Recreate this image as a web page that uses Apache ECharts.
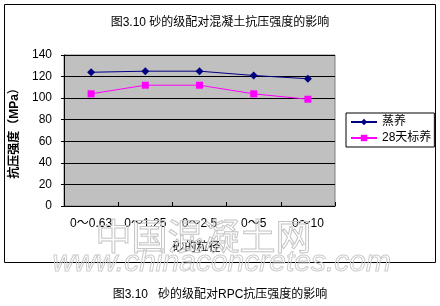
<!DOCTYPE html>
<html><head><meta charset="utf-8">
<script src="https://cdn.jsdelivr.net/npm/echarts@6/dist/echarts.min.js"></script>
<style>html,body{margin:0;padding:0;background:#fff}#c{width:440px;height:306px}</style>
</head><body><div id="c"></div>
<script>
const categories = ['0～0.63', '0～1.25', '0～2.5', '0～5', '0～10'];
const steamCured = [124, 125, 125, 121, 118];
const standard28 = [104, 112, 112, 104, 99];
const yTicks = [0, 20, 40, 60, 80, 100, 120, 140];
const seriesNames = ['蒸养', '28天标养'];
const titleText = '图3.10 砂的级配对混凝土抗压强度的影响';
const captionText = '图3.10   砂的级配对RPC抗压强度的影响';
const xName = '砂的粒径';
const yName = '抗压强度（MPa）';

const FONT = '"Liberation Sans", "Noto Sans CJK SC", sans-serif';
const chart = echarts.init(document.getElementById('c'), null, {renderer: 'canvas'});
chart.setOption({
  animation: false,
  backgroundColor: '#fff',
  textStyle: {fontFamily: FONT},
  title: {text: titleText, left: 'center', top: 12, textStyle: {fontSize: 12, fontWeight: 'normal', color: '#000', fontFamily: FONT}},
  grid: {left: 64, top: 55, width: 271, height: 151, show: true, backgroundColor: '#c0c0c0', borderColor: '#808080', borderWidth: 1},
  legend: {
    orient: 'vertical', left: 346, top: 113, itemGap: 4, itemWidth: 26, itemHeight: 8,
    data: seriesNames,
    textStyle: {fontSize: 12, color: '#000', fontFamily: FONT},
    borderColor: '#000', borderWidth: 1, padding: [3, 3, 3, 4], borderRadius: 0
  },
  xAxis: {
    type: 'category', data: categories, boundaryGap: true,
    name: xName, nameLocation: 'middle', nameGap: 36,
    nameTextStyle: {fontSize: 12, color: '#000', fontFamily: FONT, padding: [0, 6, 0, 0]},
    axisLine: {lineStyle: {color: '#000'}},
    axisTick: {show: true, length: 4, inside: true, lineStyle: {color: '#000'}},
    axisLabel: {fontSize: 12, color: '#000', margin: 12, interval: 0, fontFamily: FONT}
  },
  yAxis: {
    type: 'value', min: yTicks[0], max: yTicks[yTicks.length - 1], interval: 20,
    name: yName, nameLocation: 'middle', nameGap: 38,
    nameTextStyle: {fontSize: 12, color: '#000', fontWeight: 'bold', fontFamily: FONT},
    axisLine: {show: true, lineStyle: {color: '#000'}},
    axisTick: {show: true, length: 3, lineStyle: {color: '#000'}},
    axisLabel: {fontSize: 12, color: '#000', margin: 12, fontFamily: FONT},
    splitLine: {lineStyle: {color: '#000', width: 1}}
  },
  series: [
    {name: seriesNames[0], type: 'line', data: steamCured, symbol: 'diamond', symbolSize: 8,
     itemStyle: {color: '#000080'}, lineStyle: {color: '#000080', width: 1}},
    {name: seriesNames[1], type: 'line', data: standard28, symbol: 'rect', symbolSize: 7,
     itemStyle: {color: '#ff00ff'}, lineStyle: {color: '#ff00ff', width: 1}}
  ],
  graphic: [
    {type: 'rect', shape: {x: 4.5, y: 4.5, width: 431, height: 258}, style: {fill: 'none', stroke: '#000', lineWidth: 1}, z: 0, silent: true},
    {type: 'text', left: 'center', top: 289, style: {text: captionText, fontSize: 12, fill: '#000', fontFamily: FONT}, z: 10},
    {type: 'text', left: 95, top: 222, style: {text: '中国混凝土网', fontSize: 36, fill: 'rgba(255,255,255,0)', stroke: '#c4c4c4', lineWidth: 1, fontFamily: FONT}, z: 20, silent: true},
    {type: 'text', left: 52, top: 247, style: {text: 'www.chinaconcretes.com', fontSize: 30, fill: 'rgba(255,255,255,0)', stroke: '#cccccc', lineWidth: 1, fontFamily: FONT, fontStyle: 'italic'}, z: 20, silent: true}
  ]
});
</script></body></html>
